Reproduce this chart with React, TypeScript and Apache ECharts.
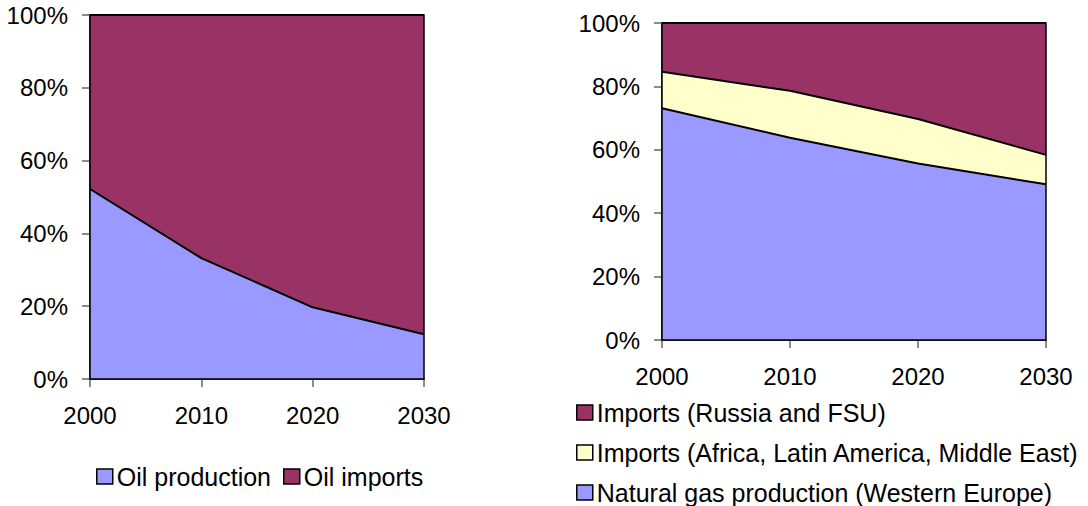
import React, { useEffect, useRef } from "react";
import * as echarts from "echarts";

const years = ["2000", "2010", "2020", "2030"];

// Left chart (shares, %)
const oilProduction = [52.2, 33.2, 19.7, 12.3];
const oilImports = [47.8, 66.8, 80.3, 87.7];

// Right chart (shares, %)
const gasProduction = [73.1, 63.8, 55.7, 49.1];
const importsAfrica = [11.5, 14.8, 14.0, 9.3];
const importsRussia = [15.4, 21.4, 30.3, 41.6];

const yTicks = [0, 20, 40, 60, 80, 100];

const C_PROD = "#9999FF";
const C_IMP = "#993366";
const C_AFR = "#FFFFCC";
const FONT = "'Liberation Sans', Arial, sans-serif";

export default function App() {
  const ref = useRef<HTMLDivElement>(null);
  useEffect(() => {
    document.body.style.margin = "0";
    const chart = echarts.init(ref.current!, null, { renderer: "svg" });
    const textStyle = { fontFamily: FONT, fontSize: 24, color: "#000" };
    const legendText = { fontFamily: FONT, fontSize: 25, color: "#000", padding: [0, 0, 0, -1] };

    const mkX = (gridIndex: number) => ({
      type: "category",
      gridIndex,
      data: years,
      boundaryGap: false,
      axisLine: { show: true, lineStyle: { color: "#000", width: 1.5 } },
      axisTick: { show: true, length: 8, inside: false, lineStyle: { color: "#666", width: 1.5 } },
      axisLabel: { ...textStyle, margin: 24 },
      splitLine: { show: false },
    });
    const mkY = (gridIndex: number, margin: number) => ({
      type: "value",
      gridIndex,
      min: yTicks[0],
      max: yTicks[yTicks.length - 1],
      interval: 20,
      axisLine: { show: true, lineStyle: { color: "#000", width: 1.5 } },
      axisTick: { show: true, length: 8, lineStyle: { color: "#666", width: 1.5 } },
      axisLabel: { ...textStyle, margin, formatter: "{value}%" },
      splitLine: { show: false },
    });
    const mkArea = (name: string, data: number[], color: string, idx: number, stack: string) => ({
      name,
      type: "line",
      xAxisIndex: idx,
      yAxisIndex: idx,
      stack,
      data,
      symbol: "none",
      lineStyle: { color: "#000", width: 2 },
      itemStyle: { color, borderColor: "#000", borderWidth: 1.5 },
      areaStyle: { color, opacity: 1 },
      z: 2,
    });

    chart.setOption({
      animation: false,
      backgroundColor: "#fff",
      textStyle: { fontFamily: FONT },
      grid: [
        { left: 90, top: 15, width: 334, height: 364, show: true, borderColor: "#000", borderWidth: 1.5, backgroundColor: "transparent", z: 3 },
        { left: 662, top: 23, width: 384, height: 317, show: true, borderColor: "#000", borderWidth: 1.5, backgroundColor: "transparent", z: 3 },
      ],
      xAxis: [mkX(0), mkX(1)],
      yAxis: [mkY(0, 22), mkY(1, 22)],
      legend: [
        {
          data: ["Oil production", "Oil imports"],
          orient: "horizontal",
          left: 96,
          top: 464,
          padding: 0,
          icon: "rect",
          itemWidth: 16,
          itemHeight: 15,
          itemGap: 12,
          itemStyle: { borderColor: "#000", borderWidth: 1.5 },
          textStyle: legendText,
        },
        {
          data: [
            "Imports (Russia and FSU)",
            "Imports (Africa, Latin America, Middle East)",
            "Natural gas production (Western Europe)",
          ],
          orient: "vertical",
          left: 576,
          top: 400,
          padding: 0,
          height: 110,
          icon: "rect",
          itemWidth: 16,
          itemHeight: 15,
          itemGap: 15,
          itemStyle: { borderColor: "#000", borderWidth: 1.5 },
          textStyle: legendText,
        },
      ],
      series: [
        mkArea("Oil production", oilProduction, C_PROD, 0, "a"),
        mkArea("Oil imports", oilImports, C_IMP, 0, "a"),
        mkArea("Natural gas production (Western Europe)", gasProduction, C_PROD, 1, "b"),
        mkArea("Imports (Africa, Latin America, Middle East)", importsAfrica, C_AFR, 1, "b"),
        mkArea("Imports (Russia and FSU)", importsRussia, C_IMP, 1, "b"),
      ],
    });
    return () => chart.dispose();
  }, []);
  return <div ref={ref} style={{ width: 1088, height: 506 }} />;
}
